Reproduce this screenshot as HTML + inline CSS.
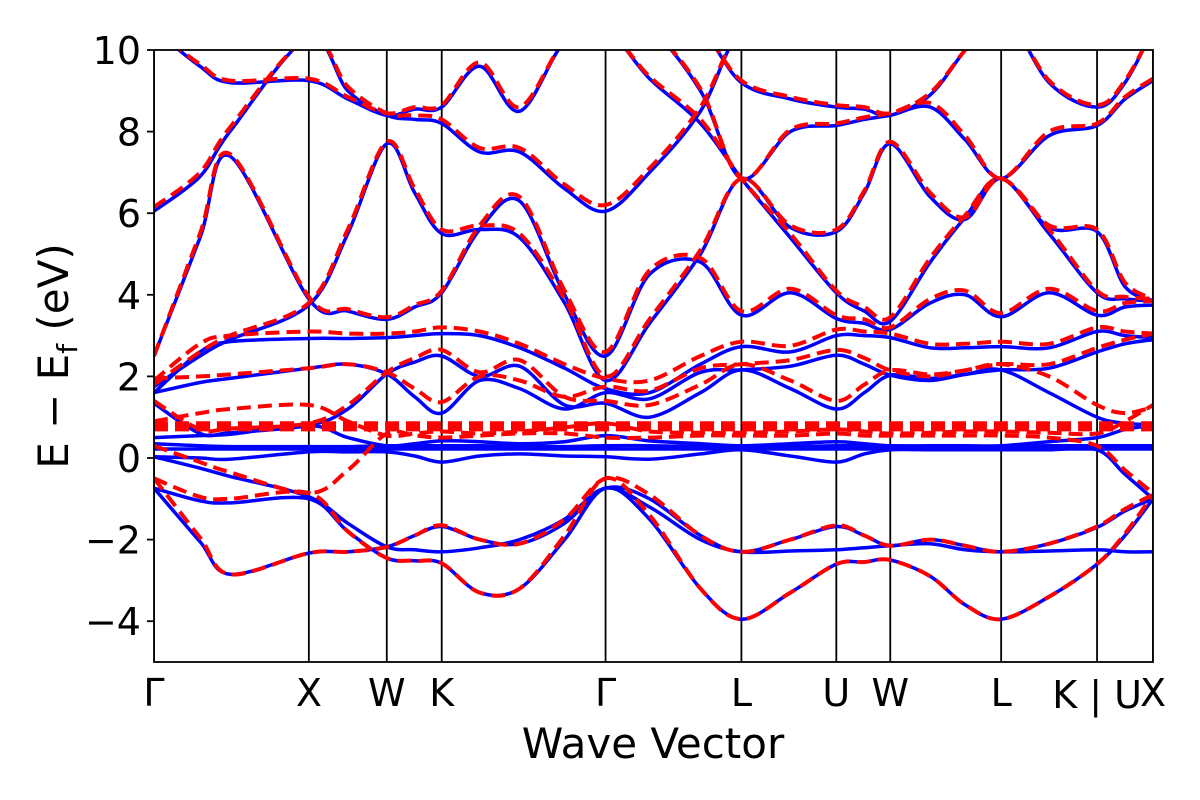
<!DOCTYPE html>
<html><head><meta charset="utf-8"><style>
html,body{margin:0;padding:0;background:#fff;}
svg text{font-family:"DejaVu Sans","Liberation Sans",sans-serif;fill:#000;}
</style></head><body>
<svg id="chart" width="1200" height="800" viewBox="0 0 1200 800" xmlns="http://www.w3.org/2000/svg" style="position:absolute;left:0;top:0">
<defs><clipPath id="plotclip"><rect x="154" y="50" width="999" height="612"/></clipPath></defs>
<g id="marks" clip-path="url(#plotclip)"></g>
<g id="axes"></g>
</svg>
<script>
const kLabels = ["Γ","X","W","K","Γ","L","U","W","L","K | U","X"];
const kTicks = [0,0.155,0.233,0.288,0.452,0.588,0.683,0.737,0.848,0.944,1.0];
const kGrid = [0,0.046,0.076,0.155,0.194,0.233,0.261,0.288,0.326,0.366,0.411,0.452,0.496,0.547,0.588,0.637,0.683,0.711,0.737,0.777,0.812,0.848,0.896,0.944,0.972,1.0];
const yTicks = [-4,-2,0,2,4,6,8,10];

const blue1 = [-0.74,-2.05,-2.85,-2.33,-2.3,-2.18,-1.9,-1.68,-2.0,-2.1,-1.6,-0.74,-1.0,-1.9,-2.3,-2.0,-1.68,-1.9,-2.15,-2.0,-2.15,-2.3,-2.1,-1.7,-1.3,-1.0];
const blue2 = [-0.74,-1.05,-1.1,-1.0,-1.8,-2.45,-2.52,-2.58,-3.3,-3.2,-2.0,-0.74,-1.5,-3.2,-3.95,-3.3,-2.6,-2.55,-2.5,-2.9,-3.6,-3.95,-3.4,-2.6,-1.9,-1.0];
const blue3 = [0.03,-0.25,-0.45,-0.95,-1.6,-2.18,-2.25,-2.3,-2.2,-2.0,-1.5,-0.74,-1.2,-2.0,-2.3,-2.28,-2.25,-2.2,-2.15,-2.1,-2.25,-2.3,-2.28,-2.25,-2.3,-2.3];
const blue4 = [0.03,0.0,-0.03,0.15,0.15,0.15,0.05,-0.1,0.05,0.1,0.05,0.03,-0.03,0.1,0.2,0.05,-0.1,0.1,0.2,0.2,0.2,0.2,0.2,0.2,-0.4,-1.0];
const blue5 = [0.22,0.22,0.22,0.22,0.22,0.22,0.22,0.22,0.22,0.22,0.22,0.22,0.22,0.22,0.22,0.22,0.22,0.22,0.22,0.22,0.22,0.22,0.22,0.22,0.22,0.22];
const blue6 = [0.35,0.3,0.28,0.28,0.28,0.3,0.3,0.3,0.3,0.28,0.28,0.3,0.3,0.28,0.28,0.28,0.3,0.3,0.3,0.28,0.28,0.28,0.3,0.3,0.3,0.3];
const blue7 = [0.5,0.55,0.58,0.8,0.5,0.3,0.35,0.42,0.4,0.35,0.4,0.55,0.42,0.35,0.3,0.35,0.4,0.35,0.3,0.3,0.3,0.3,0.4,0.5,0.7,0.8];
const blue8 = [1.34,0.6,0.62,0.8,1.2,2.06,2.35,2.5,2.0,2.25,1.3,1.34,1.0,1.6,2.16,1.7,1.2,1.6,2.03,1.95,2.05,2.16,1.6,1.0,0.85,0.82];
const blue9 = [1.6,1.85,1.95,2.2,2.3,2.06,1.5,1.1,1.9,1.7,1.2,1.6,1.45,2.1,2.16,2.25,2.52,2.3,2.03,1.9,2.05,2.16,2.2,2.6,2.8,2.9];
const blue10 = [1.6,2.6,2.85,2.93,2.93,2.95,3.0,3.05,3.0,2.7,2.2,1.7,1.6,2.3,2.73,2.6,3.0,3.0,2.95,2.7,2.7,2.73,2.7,3.1,3.0,2.95];
const blue11 = [2.5,5.4,7.4,3.9,3.6,3.4,3.7,4.05,5.6,6.3,4.0,2.5,4.5,4.8,3.5,4.05,3.42,3.3,3.15,3.8,4.0,3.46,4.05,3.5,3.7,3.75];
const blue12 = [1.75,2.5,2.9,3.75,5.5,7.7,6.5,5.5,5.6,5.4,3.8,1.9,3.3,5.0,6.85,5.65,5.55,6.5,7.7,6.4,5.85,6.85,5.65,5.55,4.2,3.85];
const blue13 = [6.05,6.9,8.0,10.3,9.0,8.4,8.3,8.2,7.5,7.5,6.6,6.05,7.0,8.5,10.5,10.5,10.5,10.5,10.5,10.5,10.5,10.5,10.5,10.5,10.5,10.5];
const blue14 = [10.5,9.6,9.2,9.25,8.8,8.4,8.55,8.6,9.6,8.5,10.2,10.5,9.3,8.2,6.85,5.4,4.05,3.6,3.35,4.8,5.9,6.85,5.5,4.05,3.9,3.85];
const blue15 = [11,10.5,10.5,10.5,10.5,10.5,10.5,10.5,10.5,10.5,10.5,10.5,10.5,9.0,6.85,8.0,8.15,8.3,8.4,8.6,7.8,6.85,7.9,8.15,8.8,9.25];
const blue16 = [11,11,11,11,11,11,11,11,11,11,11,11,11,10.5,9.2,8.8,8.6,8.55,8.4,8.9,10,11,9.2,8.6,9.2,10.5];

const red1 = [-0.5,-1.95,-2.85,-2.33,-2.3,-2.18,-1.9,-1.65,-2.0,-2.1,-1.5,-0.5,-0.9,-1.9,-2.3,-2.0,-1.65,-1.9,-2.15,-2.0,-2.15,-2.3,-2.1,-1.68,-1.25,-0.9];
const red2 = [-0.5,-0.95,-1.0,-0.86,-1.8,-2.45,-2.52,-2.58,-3.3,-3.2,-1.9,-0.5,-1.4,-3.2,-3.95,-3.3,-2.6,-2.55,-2.5,-2.9,-3.6,-3.95,-3.4,-2.6,-1.85,-0.9];
const red3 = [0.3,-0.1,-0.35,-0.86,-0.3,0.6,0.55,0.5,0.55,0.6,0.6,0.5,0.5,0.55,0.55,0.55,0.6,0.55,0.55,0.55,0.55,0.55,0.5,0.3,-0.3,-0.86];
const red4 = [0.85,0.85,0.85,0.85,0.85,0.85,0.85,0.85,0.85,0.85,0.85,0.85,0.85,0.85,0.85,0.85,0.85,0.85,0.85,0.85,0.85,0.85,0.85,0.85,0.85,0.85];
const red5 = [0.78,0.78,0.78,0.78,0.78,0.78,0.78,0.78,0.78,0.78,0.78,0.78,0.78,0.78,0.78,0.78,0.78,0.78,0.78,0.78,0.78,0.78,0.78,0.78,0.78,0.78];
const red6 = [0.7,0.7,0.7,0.7,0.7,0.7,0.7,0.7,0.7,0.7,0.7,0.7,0.7,0.7,0.7,0.7,0.7,0.7,0.7,0.7,0.7,0.7,0.7,0.7,0.7,0.7];
const red7 = [0.9,1.1,1.2,1.3,0.9,0.55,0.6,0.65,0.6,0.65,0.75,0.85,0.65,0.62,0.62,0.65,0.7,0.65,0.6,0.62,0.65,0.65,0.62,0.6,0.9,1.3];
const red8 = [1.4,0.7,0.72,0.85,1.3,2.1,2.45,2.65,2.1,2.4,1.5,1.4,1.3,1.8,2.3,1.9,1.4,1.8,2.15,2.05,2.15,2.3,2.0,1.3,1.1,1.25];
const red9 = [1.95,2.0,2.05,2.2,2.3,2.1,1.7,1.37,2.0,1.9,1.5,1.75,1.65,2.2,2.3,2.4,2.65,2.45,2.15,2.0,2.15,2.3,2.3,2.7,2.9,3.05];
const red10 = [1.9,2.8,3.0,3.1,3.05,3.05,3.1,3.2,3.1,2.8,2.3,1.95,1.9,2.5,2.85,2.75,3.15,3.1,3.05,2.8,2.8,2.85,2.8,3.2,3.1,3.05];
const red11 = [2.5,5.5,7.45,3.95,3.65,3.45,3.75,4.1,5.7,6.4,4.1,2.6,4.6,4.9,3.6,4.15,3.5,3.4,3.2,3.9,4.1,3.55,4.15,3.6,3.8,3.85];
const red12 = [1.8,2.6,3.0,3.8,5.6,7.75,6.6,5.6,5.7,5.5,3.9,2.0,3.4,5.1,6.85,5.7,5.6,6.55,7.75,6.5,5.9,6.85,5.7,5.6,4.3,3.9];
const red13 = [6.15,7.0,8.1,10.3,9.1,8.45,8.4,8.3,7.6,7.6,6.7,6.2,7.1,8.6,10.5,10.5,10.5,10.5,10.5,10.5,10.5,10.5,10.5,10.5,10.5,10.5];
const red14 = [10.5,9.65,9.25,9.3,8.85,8.45,8.6,8.65,9.7,8.6,10.2,10.5,9.35,8.3,6.85,5.5,4.1,3.7,3.45,4.9,5.95,6.85,5.6,4.1,3.95,3.9];
const red15 = [11,10.5,10.5,10.5,10.5,10.5,10.5,10.5,10.5,10.5,10.5,10.5,10.5,9.05,6.85,8.05,8.2,8.35,8.45,8.7,7.9,6.85,8.0,8.2,8.85,9.3];
const red16 = [11,11,11,11,11,11,11,11,11,11,11,11,11,10.5,9.25,8.85,8.65,8.6,8.45,8.95,10,11,9.25,8.65,9.25,10.5];

const blueBands = [blue1,blue2,blue3,blue4,blue5,blue6,blue7,blue8,blue9,blue10,blue11,blue12,blue13,blue14,blue15,blue16];
const redBands = [red1,red2,red3,red4,red5,red6,red7,red8,red9,red10,red11,red12,red13,red14,red15,red16];

const X0=154, X1=1153, Y0=662, Y1=50, EMIN=-5, EMAX=10;
const xScale = k => X0 + k*(X1-X0);
const yScale = e => Y0 - (e-EMIN)/(EMAX-EMIN)*(Y0-Y1);
const NS="http://www.w3.org/2000/svg";
const marks=document.getElementById('marks'), axes=document.getElementById('axes');

function pathFor(vals){
  const p = vals.map((v,i)=>[xScale(kGrid[i]), yScale(v)]);
  let d = `M${p[0][0].toFixed(1)},${p[0][1].toFixed(1)}`;
  for(let i=0;i<p.length-1;i++){
    const p0=p[Math.max(0,i-1)], p1=p[i], p2=p[i+1], p3=p[Math.min(p.length-1,i+2)];
    const c1=[p1[0]+(p2[0]-p0[0])/6, p1[1]+(p2[1]-p0[1])/6];
    const c2=[p2[0]-(p3[0]-p1[0])/6, p2[1]-(p3[1]-p1[1])/6];
    d+=` C${c1[0].toFixed(1)},${c1[1].toFixed(1)} ${c2[0].toFixed(1)},${c2[1].toFixed(1)} ${p2[0].toFixed(1)},${p2[1].toFixed(1)}`;
  }
  return d;
}

kTicks.forEach((k,i)=>{
  const l=document.createElementNS(NS,'line');
  
  
  l.setAttribute('x1',xScale(k));l.setAttribute('x2',xScale(k));
  l.setAttribute('y1',Y1);l.setAttribute('y2',Y0);
  l.setAttribute('stroke','#000');l.setAttribute('stroke-width','1.8');
  marks.appendChild(l);
});

blueBands.forEach((b,i)=>{
  const el=document.createElementNS(NS,'path');
  
  
  el.setAttribute('d',pathFor(b));
  el.setAttribute('fill','none');el.setAttribute('stroke','#0000ff');el.setAttribute('stroke-width','3.5');
  marks.appendChild(el);
});
redBands.forEach((b,i)=>{
  const el=document.createElementNS(NS,'path');
  
  
  el.setAttribute('d',pathFor(b));
  el.setAttribute('fill','none');el.setAttribute('stroke','#ff0000');el.setAttribute('stroke-width','4');
  el.setAttribute('stroke-dasharray','14,7');
  marks.appendChild(el);
});

const fr=document.createElementNS(NS,'rect');


fr.setAttribute('x',X0);fr.setAttribute('y',Y1);fr.setAttribute('width',X1-X0);fr.setAttribute('height',Y0-Y1);
fr.setAttribute('fill','none');fr.setAttribute('stroke','#000');fr.setAttribute('stroke-width','1.8');
axes.appendChild(fr);

yTicks.forEach(v=>{
  const y=yScale(v);
  const t=document.createElementNS(NS,'line');
  
  
  t.setAttribute('x1',X0-7);t.setAttribute('x2',X0);t.setAttribute('y1',y);t.setAttribute('y2',y);
  t.setAttribute('stroke','#000');t.setAttribute('stroke-width','1.8');
  axes.appendChild(t);
  const tx=document.createElementNS(NS,'text');
  
  
  tx.setAttribute('x',X0-13);tx.setAttribute('y',y+14);tx.setAttribute('text-anchor','end');tx.setAttribute('font-size','38');
  tx.textContent = v<0 ? '\u2212'+Math.abs(v) : String(v);
  axes.appendChild(tx);
});
kTicks.forEach((k,i)=>{
  const tx=document.createElementNS(NS,'text');
  
  
  tx.setAttribute('x',xScale(k));tx.setAttribute('y',i===9?708:706);tx.setAttribute('text-anchor','middle');tx.setAttribute('font-size','38');
  tx.textContent=kLabels[i];
  axes.appendChild(tx);
});
</script>
<svg style="position:absolute;left:0;top:0" width="1200" height="800">
<text x="653" y="758" text-anchor="middle" font-size="42" style="font-family:'DejaVu Sans','Liberation Sans',sans-serif">Wave Vector</text>
<text transform="translate(68,356) rotate(-90)" text-anchor="middle" font-size="42" style="font-family:'DejaVu Sans','Liberation Sans',sans-serif">E − E<tspan font-size="28" dy="9">f</tspan><tspan dy="-9"> (eV)</tspan></text>
</svg>
</body></html>
